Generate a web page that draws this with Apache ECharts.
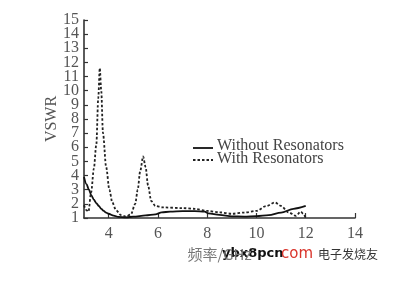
<!DOCTYPE html>
<html><head><meta charset="utf-8">
<script src="https://cdn.jsdelivr.net/npm/echarts@6/dist/echarts.min.js"></script>
<style>html,body{margin:0;padding:0;background:#fff}#c{width:400px;height:284px}</style>
</head><body><div id="c"></div>
<script>
var xTicks = [4, 6, 8, 10, 12, 14];
var yTicksOdd = [1, 3, 5, 7, 9, 11, 13, 15];
var yTicksEven = [2, 4, 6, 8, 10, 12, 14];
var seriesNames = ['Without Resonators', 'With Resonators'];
var withoutRes = [[3,3.9],[3.1,3.4],[3.2,3.0],[3.3,2.6],[3.4,2.3],[3.5,2.05],[3.6,1.85],[3.7,1.65],[3.8,1.5],[3.9,1.38],[4.0,1.3],[4.2,1.17],[4.4,1.08],[4.7,1.04],[5.0,1.1],[5.5,1.18],[5.9,1.25],[6.15,1.4],[6.5,1.45],[7,1.48],[7.5,1.48],[7.9,1.45],[8.05,1.33],[8.5,1.22],[9,1.12],[9.5,1.1],[10,1.13],[10.5,1.2],[11,1.38],[11.5,1.65],[12,1.85]];
var withRes = [[3,1.9],[3.1,1.55],[3.18,1.45],[3.29,2.8],[3.4,4.5],[3.5,6.2],[3.58,9.5],[3.64,11.6],[3.7,10],[3.77,7],[3.9,4.6],[4.03,3],[4.15,2.1],[4.3,1.55],[4.5,1.2],[4.7,1.1],[4.9,1.25],[5.08,2],[5.18,3],[5.28,4.3],[5.4,5.35],[5.5,4.6],[5.6,3.3],[5.73,2.2],[5.9,1.85],[6.2,1.75],[7,1.7],[7.5,1.65],[8,1.5],[8.5,1.4],[9,1.3],[9.5,1.38],[10,1.5],[10.4,1.85],[10.75,2.1],[11,1.85],[11.3,1.4],[11.6,1.15],[11.8,1.45],[11.9,1.3],[12,1.0]];

var chart = echarts.init(document.getElementById('c'));
var font = '"Liberation Serif", "DejaVu Serif", serif';
function yAx(vals, main) {
  return {
    type: 'value', min: 1, max: 15, interval: 1, position: 'left', offset: 0,
    name: main ? 'VSWR' : '', nameLocation: 'middle', nameGap: 24, nameRotate: 90, nameMoveOverlap: false,
    nameTextStyle: {fontFamily: font, fontSize: 16, color: '#555'},
    axisLine: {show: main, lineStyle: {color: '#333', width: 1.6}},
    axisTick: {show: true, inside: true, length: 4, customValues: vals, lineStyle: {color: '#333', width: 1.2}},
    axisLabel: {customValues: vals, margin: 5, fontFamily: font, fontSize: 16, color: '#555', showMinLabel: true, showMaxLabel: true},
    splitLine: {show: false}
  };
}
chart.setOption({
  animation: false,
  backgroundColor: '#fff',
  grid: {left: 84, right: 45, top: 20, bottom: 66},
  xAxis: {
    type: 'value', min: 3, max: 14,
    name: '频率/GHz', nameLocation: 'middle', nameGap: 23,
    nameTextStyle: {fontFamily: '"Noto Sans CJK SC", serif', fontSize: 15, color: '#777'},
    axisLine: {show: true, lineStyle: {color: '#333', width: 1.6}},
    axisTick: {show: true, inside: true, length: 5, customValues: xTicks, lineStyle: {color: '#333', width: 1.2}},
    axisLabel: {customValues: xTicks, margin: 8, fontFamily: font, fontSize: 16, color: '#555'},
    splitLine: {show: false}
  },
  yAxis: [yAx(yTicksOdd, true), yAx(yTicksEven, false)],
  series: [
    {name: seriesNames[0], type: 'line', data: withoutRes, showSymbol: false, smooth: 0.3, smoothMonotone: 'x',
     lineStyle: {color: '#111', width: 1.8, type: 'solid'}},
    {name: seriesNames[1], type: 'line', data: withRes, showSymbol: false, smooth: 0.3, smoothMonotone: 'x',
     lineStyle: {color: '#222', width: 1.8, type: [2.5, 2]}}
  ],
  graphic: [
    {type: 'line', shape: {x1: 193, y1: 148, x2: 213, y2: 148}, style: {stroke: '#111', lineWidth: 1.8}},
    {type: 'line', shape: {x1: 193, y1: 160, x2: 213, y2: 160}, style: {stroke: '#222', lineWidth: 1.8, lineDash: [2.5, 2]}},
    {type: 'text', left: 217, top: 138, style: {text: seriesNames[0], font: '16px ' + font, fill: '#444'}},
    {type: 'text', left: 217, top: 151, style: {text: seriesNames[1], font: '16px ' + font, fill: '#444'}},
    {type: 'text', left: 222, top: 247, style: {text: 'ybx8pcn', font: 'bold 13px "DejaVu Sans", sans-serif', fill: '#111'}},
    {type: 'text', left: 281, top: 247, style: {text: 'com', font: '15px "DejaVu Sans", sans-serif', fill: '#d9342b'}},
    {type: 'text', left: 318, top: 248, style: {text: '电子发烧友', font: '12px "Noto Sans CJK SC", sans-serif', fill: '#333'}}
  ]
});
</script></body></html>
